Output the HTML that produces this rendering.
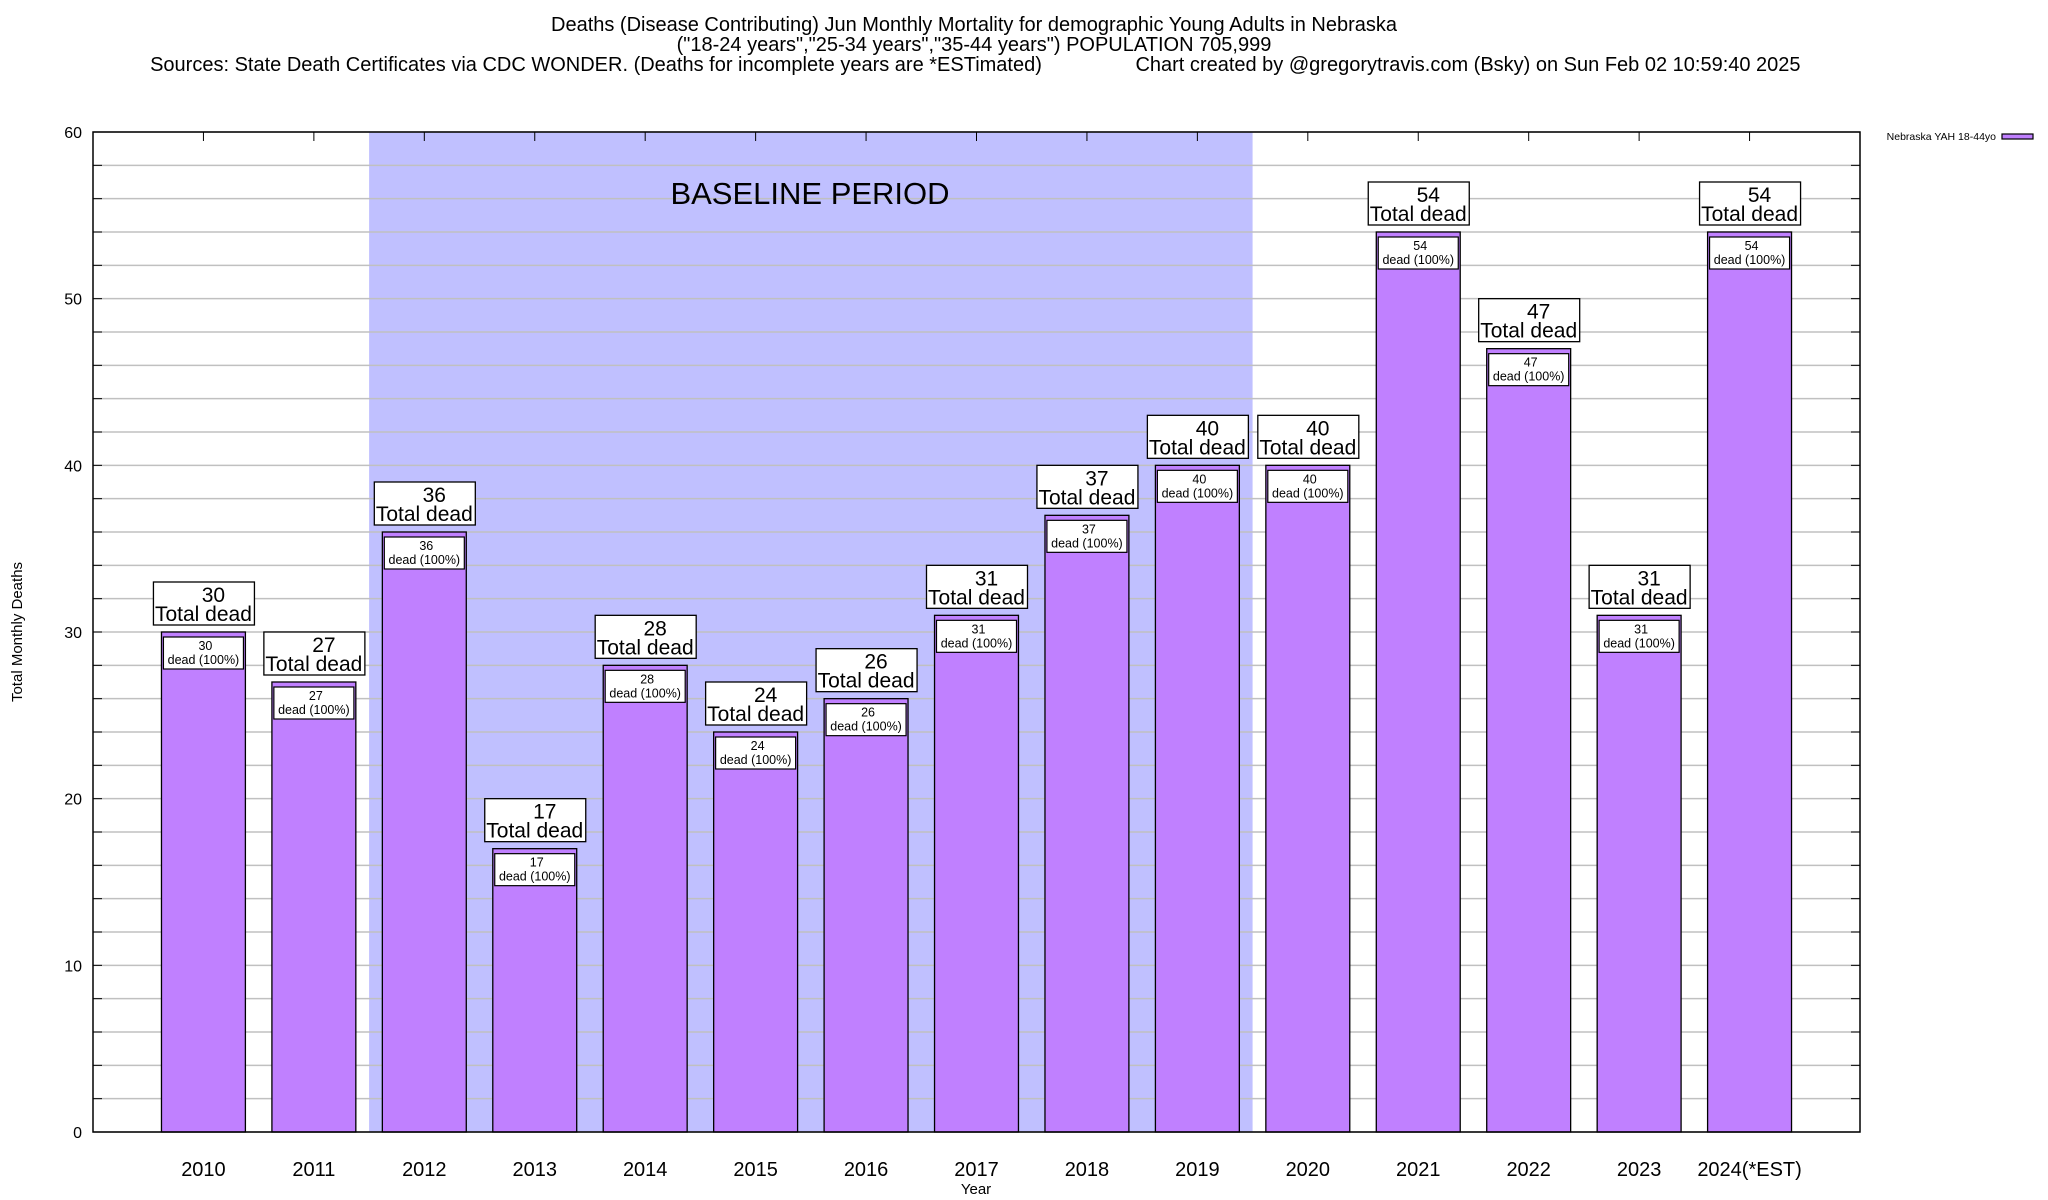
<!DOCTYPE html>
<html><head><meta charset="utf-8"><style>
html,body{margin:0;padding:0;background:#fff;}
svg{display:block;font-family:"Liberation Sans",sans-serif;}
</style></head><body>
<svg id="chart" width="2048" height="1200" viewBox="0 0 2048 1200" xmlns="http://www.w3.org/2000/svg">
<g font-size="20" text-anchor="middle">
<text x="974" y="31">Deaths (Disease Contributing) Jun Monthly Mortality for demographic Young Adults in Nebraska</text>
<text x="974" y="51">("18-24 years","25-34 years","35-44 years") POPULATION 705,999</text>
<text x="596" y="71">Sources: State Death Certificates via CDC WONDER. (Deaths for incomplete years are *ESTimated)</text>
<text x="1468" y="71">Chart created by @gregorytravis.com (Bsky) on Sun Feb 02 10:59:40 2025</text>
</g>
<g id="plot"></g>
<text x="22" y="632" transform="rotate(-90 22 632)" text-anchor="middle" font-size="15">Total Monthly Deaths</text>
<text x="976" y="1194" text-anchor="middle" font-size="15">Year</text>
<g>
<text x="1996" y="140" text-anchor="end" font-size="10.5">Nebraska YAH 18-44yo</text>
<rect x="2002" y="134" width="31" height="5" fill="#c080ff" stroke="#000" stroke-width="1.2"/>
</g>
</svg>
<script>
const categories = ["2010","2011","2012","2013","2014","2015","2016","2017","2018","2019","2020","2021","2022","2023","2024(*EST)"];
const deaths = [30,27,36,17,28,24,26,31,37,40,40,54,47,31,54];
const yTicks = [0,10,20,30,40,50,60];
const baselineStart = 1.5, baselineEnd = 9.5;

const NS = "http://www.w3.org/2000/svg";
const L = 93, R = 1860, T = 132, B = 1132;
const yMax = 60;
const slot = (R - L) / (categories.length + 1);
const xS = i => L + (i + 1) * slot;
const yS = v => B - v / yMax * (B - T);
const plot = document.getElementById('plot');
function mk(tag, attrs, parent) {
  const e = document.createElementNS(NS, tag);
  for (const k in attrs) e.setAttribute(k, attrs[k]);
  (parent || plot).appendChild(e);
  return e;
}
const shade = mk('rect', {x: xS(baselineStart), y: T, width: xS(baselineEnd) - xS(baselineStart), height: B - T, fill: '#c0c0ff'});


for (let v = 0; v <= yMax; v += 2) {
  const g = mk('line', {x1: L, x2: R, y1: yS(v), y2: yS(v), stroke: '#c0c0c0', 'stroke-width': 1.5});
  
  
  const t1 = mk('line', {x1: L, x2: L + 9, y1: yS(v), y2: yS(v), stroke: '#000'});
  
  
  const t2 = mk('line', {x1: R - 9, x2: R, y1: yS(v), y2: yS(v), stroke: '#000'});
  
  
}
yTicks.forEach(v => {
  const t = mk('text', {x: 82, y: yS(v) + 6, 'text-anchor': 'end', 'font-size': 16});
  t.textContent = v;
  
  
});
const bl = mk('text', {x: 810, y: 204, 'text-anchor': 'middle', 'font-size': 31});
bl.textContent = 'BASELINE PERIOD';


const bw = slot * 0.76;
categories.forEach((c, i) => {
  const cx = xS(i), v = deaths[i], top = yS(v);
  const tk = mk('line', {x1: cx, x2: cx, y1: T, y2: T + 9, stroke: '#000'});
  
  
  const bar = mk('rect', {x: cx - bw / 2, y: top, width: bw, height: B - top, fill: '#c080ff', stroke: '#000', 'stroke-width': 1.3});
  
  
  const ib = mk('rect', {x: cx - 40, y: top + 5, width: 80, height: 32, fill: '#fff', stroke: '#000', 'stroke-width': 1.2});
  
  
  const i1 = mk('text', {x: cx + 2, y: top + 18, 'text-anchor': 'middle', 'font-size': 12.5});
  i1.textContent = v;
  
  
  const i2 = mk('text', {x: cx, y: top + 32, 'text-anchor': 'middle', 'font-size': 12.5});
  i2.textContent = 'dead (100%)';
  
  
  const ob = mk('rect', {x: cx - 50, y: top - 50, width: 101, height: 43, fill: '#fff', stroke: '#000', 'stroke-width': 1.3});
  
  
  const o1 = mk('text', {x: cx + 10, y: top - 30, 'text-anchor': 'middle', 'font-size': 21});
  o1.textContent = v;
  
  
  const o2 = mk('text', {x: cx, y: top - 11, 'text-anchor': 'middle', 'font-size': 21});
  o2.textContent = 'Total dead';
  
  
  const xl = mk('text', {x: cx, y: 1176, 'text-anchor': 'middle', 'font-size': 20});
  xl.textContent = c;
  
  
});
const frame = mk('rect', {x: L, y: T, width: R - L, height: B - T, fill: 'none', stroke: '#000', 'stroke-width': 1.5});


</script>
</body></html>
